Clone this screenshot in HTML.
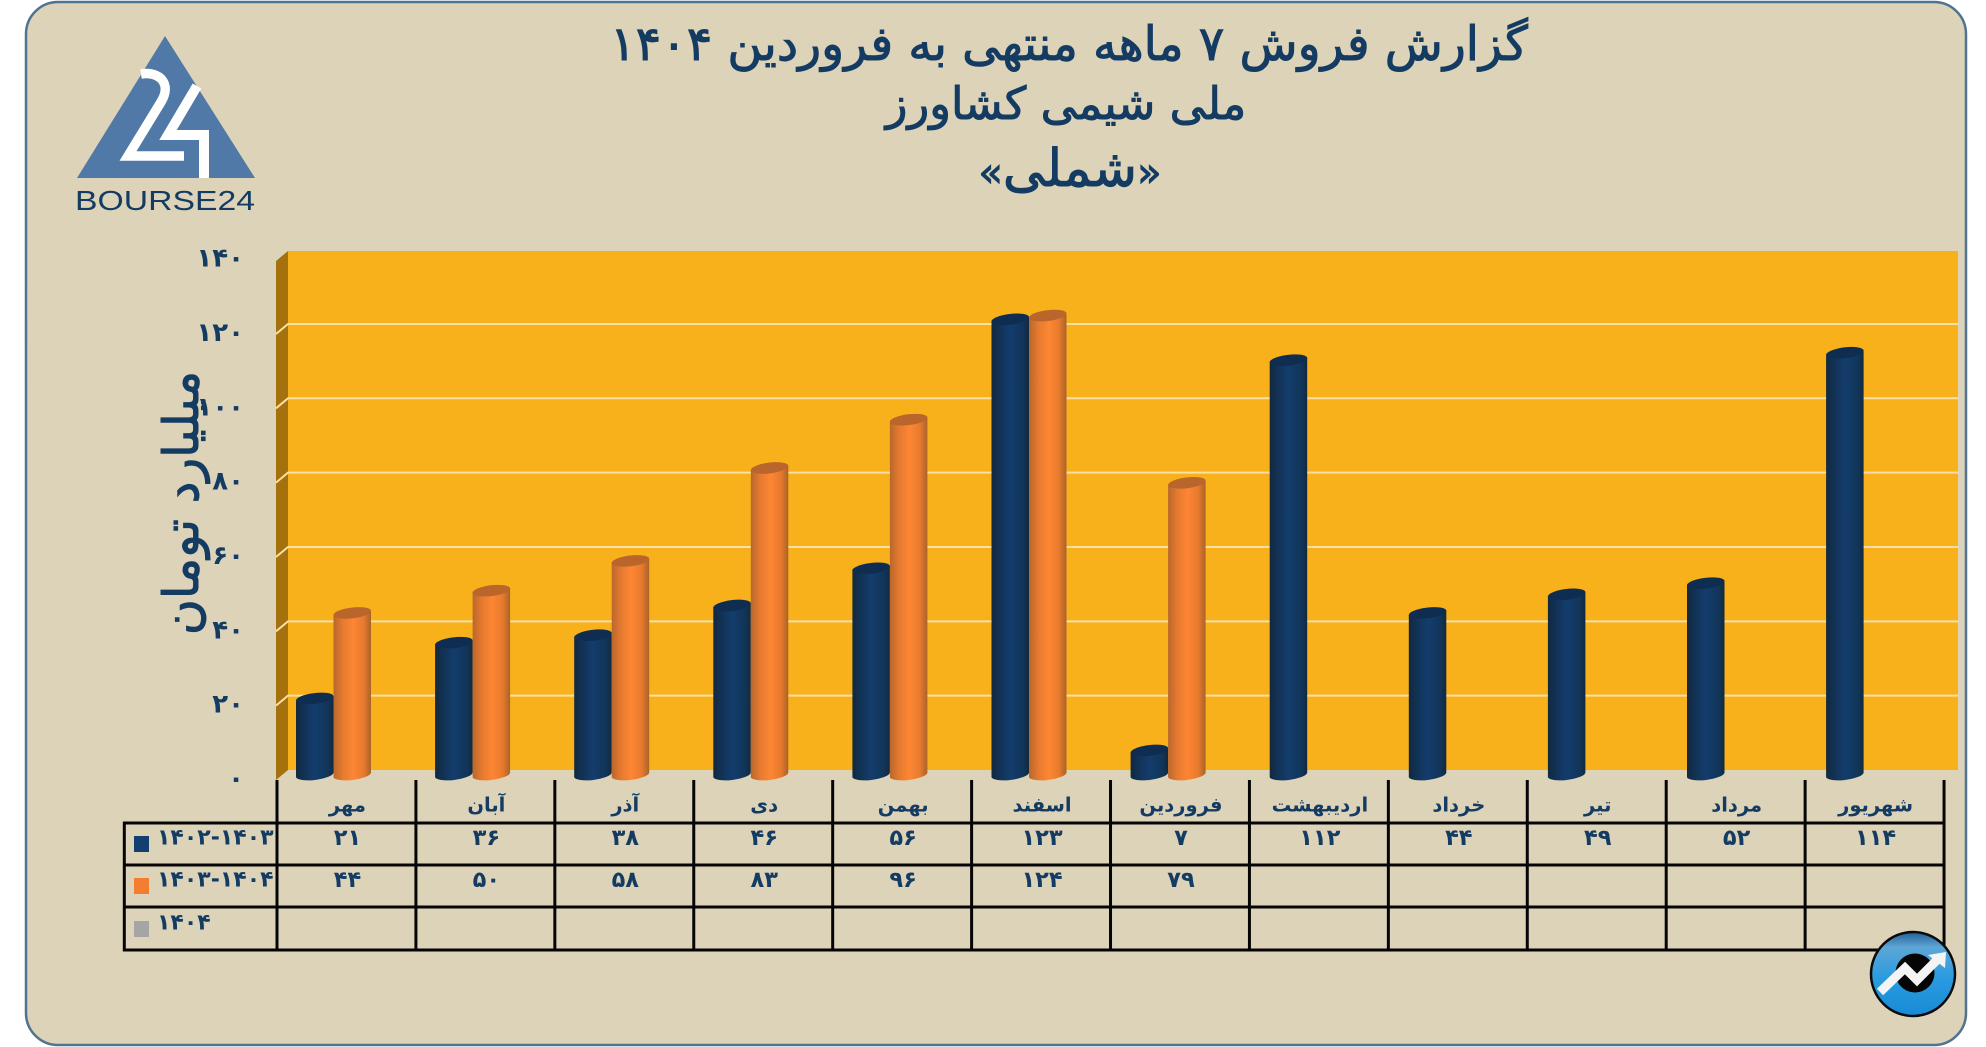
<!DOCTYPE html>
<html lang="fa">
<head>
<meta charset="utf-8">
<title>گزارش فروش ملی شیمی کشاورز</title>
<style>
html,body{margin:0;padding:0;background:#fff;width:1986px;height:1047px;overflow:hidden}
svg{display:block}
text{font-family:"DejaVu Sans","Liberation Sans",sans-serif;fill:#143c63}
.heavy{stroke:#143c63;stroke-width:1}
</style>
</head>
<body>
<svg id="chart" xmlns="http://www.w3.org/2000/svg" width="1986" height="1047" viewBox="0 0 1986 1047">
<defs>
<linearGradient id="navy-grad" x1="0" x2="1" y1="0" y2="0">
<stop offset="0" stop-color="#13283c"/><stop offset=".14" stop-color="#122f4e"/><stop offset=".5" stop-color="#133d6d"/><stop offset=".85" stop-color="#123559"/><stop offset="1" stop-color="#12293f"/>
</linearGradient>
<linearGradient id="orange-grad" x1="0" x2="1" y1="0" y2="0">
<stop offset="0" stop-color="#b9672c"/><stop offset=".25" stop-color="#e67a30"/><stop offset=".52" stop-color="#fd8633"/><stop offset=".8" stop-color="#e87a2e"/><stop offset="1" stop-color="#aa6328"/>
</linearGradient>
<linearGradient id="badge-grad" x1="0" x2="0" y1="0" y2="1">
<stop offset="0" stop-color="#235f94"/><stop offset=".18" stop-color="#5ea6d6"/><stop offset=".55" stop-color="#2a9be0"/><stop offset="1" stop-color="#178bd6"/>
</linearGradient>
</defs>

<rect x="26" y="2" width="1940" height="1043" rx="32" ry="32" fill="#ddd3b9" stroke="#4f7390" stroke-width="2.5"/>

<g text-anchor="middle" direction="rtl" style="unicode-bidi:embed">
<text class="heavy" x="1069" y="60" font-size="47.6">گزارش  فروش ۷ ماهه منتهی به فروردین ۱۴۰۴</text>
<text class="heavy" x="1066" y="119" font-size="45">ملی شیمی کشاورز</text>
<text class="heavy" x="1070" y="186" font-size="52"><tspan font-size="40">«</tspan>شملی<tspan font-size="40">»</tspan></text>
</g>

<g>
<polygon points="165,36 77,178 255,178" fill="#5079a8"/>
<path d="M141,74 C160,71 172,84 161,102 L128,156 L184,156" fill="none" stroke="#fff" stroke-width="9.5"/>
<path d="M197,86 L168,135 L204,135 L204,178" fill="none" stroke="#fff" stroke-width="10"/>
<text x="75" y="210" font-size="28" textLength="180" lengthAdjust="spacingAndGlyphs" style="font-family:'Liberation Sans',sans-serif" fill="#1c3f5c">BOURSE24</text>
</g>

<polygon points="288,251 1958,251 1958,770 288,770" fill="#f9b11b"/>
<polygon points="276,261 288,251 288,770 276,780" fill="#a5710c"/>
<g id="grid"></g>
<g id="bars"></g>
<g id="table"></g>
<g id="ticks"></g>

<text class="heavy" transform="translate(198,503) rotate(-90)" text-anchor="middle" font-size="49" direction="rtl" style="unicode-bidi:embed">میلیارد تومان</text>

<g>
<circle cx="1913" cy="974" r="42" fill="url(#badge-grad)" stroke="#0b0b0b" stroke-width="2.5"/>
<circle cx="1915" cy="973" r="19.5" fill="#050505"/>
<path d="M1880,992 L1905,968 L1917,980 L1937,960" fill="none" stroke="#f4f4f4" stroke-width="9"/>
<polygon points="1928,955 1946,952 1945,968" fill="#f4f4f4"/>
</g>
</svg>

<script>
const categories = ['مهر','آبان','آذر','دی','بهمن','اسفند','فروردین','اردیبهشت','خرداد','تیر','مرداد','شهریور'];
const series14021403 = [21,36,38,46,56,123,7,112,44,49,52,114];
const series14031404 = [44,50,58,83,96,124,79,null,null,null,null,null];
const series1404 = [null,null,null,null,null,null,null,null,null,null,null,null];
const yTickValues = [0,20,40,60,80,100,120,140];
const legendLabels = ['۱۴۰۲-۱۴۰۳','۱۴۰۳-۱۴۰۴','۱۴۰۴'];

const NS = 'http://www.w3.org/2000/svg';
const UNIT = 3.717, COL = 138.92, TABLE_X = 277, BAR_COL = 139.1;
const yWall = v => 770 - v * UNIT;
const yBar = v => 776.5 - v * UNIT;
const yFront = v => 780 - v * UNIT;
const xCol = i => TABLE_X + i * COL;
const xBar = i => 296 + i * BAR_COL;
const fa = n => String(n).replace(/\d/g, d => '۰۱۲۳۴۵۶۷۸۹'[d]);

function mk(parent, tag, attrs, txt) {
  const e = document.createElementNS(NS, tag);
  for (const k in attrs) e.setAttribute(k, attrs[k]);
  if (txt !== undefined) e.textContent = txt;
  parent.appendChild(e);
  return e;
}

const grid = document.getElementById('grid');
const ticks = document.getElementById('ticks');
yTickValues.forEach(v => {
  if (v > 0 && v < 140) {
    const g = mk(grid, 'polyline', {points: `276,${yFront(v)} 288,${yWall(v)} 1958,${yWall(v)}`, fill: 'none', stroke: '#f8e0a8', 'stroke-width': 2});
    
    
  }
  const t = mk(ticks, 'text', {x: 244, y: yFront(v) - 1, 'text-anchor': 'end', 'dominant-baseline': 'central', 'font-size': 26, 'font-weight': 'bold'}, fa(v));
  
  
});

const bars = document.getElementById('bars');
function cylinder(x0, w, v, fill, top, name) {
  const yt = yBar(v), yb = yBar(0) - 1.5, d = 4.4, rx = w / 2 + .2, ry = 5.4;
  const x1 = x0 + w;
  const body = mk(bars, 'path', {d: `M${x0},${yt + d / 2} L${x0},${yb + d / 2} A${rx},${ry} -7 0 0 ${x1},${yb - d / 2} L${x1},${yt - d / 2} Z`, fill});
  
  
  const cap = mk(bars, 'ellipse', {cx: x0 + w / 2, cy: yt, rx, ry, fill: top, transform: `rotate(-7 ${x0 + w / 2} ${yt})`});
  
  
}
categories.forEach((c, i) => {
  const a = series14021403[i], b = series14031404[i];
  if (a !== null) cylinder(xBar(i), 37.5, a, 'url(#navy-grad)', '#0f2d50', 'bar-1402-1403');
  if (b !== null) cylinder(xBar(i) + 37.5, 37.5, b, 'url(#orange-grad)', '#b9652c', 'bar-1403-1404');
});

const table = document.getElementById('table');
const rowY = [823, 865, 907, 950];
for (let i = 0; i <= categories.length; i++) {
  const l = mk(table, 'line', {x1: xCol(i), x2: xCol(i), y1: 780, y2: 951.5, stroke: '#050505', 'stroke-width': 3});
  
  
}
rowY.forEach(y => {
  const l = mk(table, 'line', {x1: 123, x2: xCol(categories.length) + 1, y1: y, y2: y, stroke: '#050505', 'stroke-width': 3});
  
  
});
const leftEdge = mk(table, 'line', {x1: 124.3, x2: 124.3, y1: 822, y2: 951.5, stroke: '#050505', 'stroke-width': 3});



categories.forEach((c, i) => {
  const t = mk(table, 'text', {x: xCol(i) + COL / 2 + 1, y: 805, 'text-anchor': 'middle', 'dominant-baseline': 'central', 'font-size': 19.5, 'font-weight': 'bold', direction: 'rtl'}, c);
  
  
});

const seriesRows = [series14021403, series14031404, series1404];
const rowTextY = [838, 880, 923];
const swatchY = [836, 878, 921];
const swatchColors = ['#123f70', '#f47d30', '#a5a5a5'];
seriesRows.forEach((vals, r) => {
  const s = mk(table, 'rect', {x: 134, y: swatchY[r], width: 15, height: 16, fill: swatchColors[r]});
  
  
  const lbl = mk(table, 'text', {x: 157, y: rowTextY[r], 'dominant-baseline': 'central', 'font-size': 22, 'font-weight': 'bold'}, legendLabels[r]);
  
  
  vals.forEach((v, i) => {
    if (v === null) return;
    const t = mk(table, 'text', {x: xCol(i) + COL / 2 + 1, y: rowTextY[r], 'text-anchor': 'middle', 'dominant-baseline': 'central', 'font-size': 22.5, 'font-weight': 'bold'}, fa(v));
    
    
  });
});
</script>
</body>
</html>
